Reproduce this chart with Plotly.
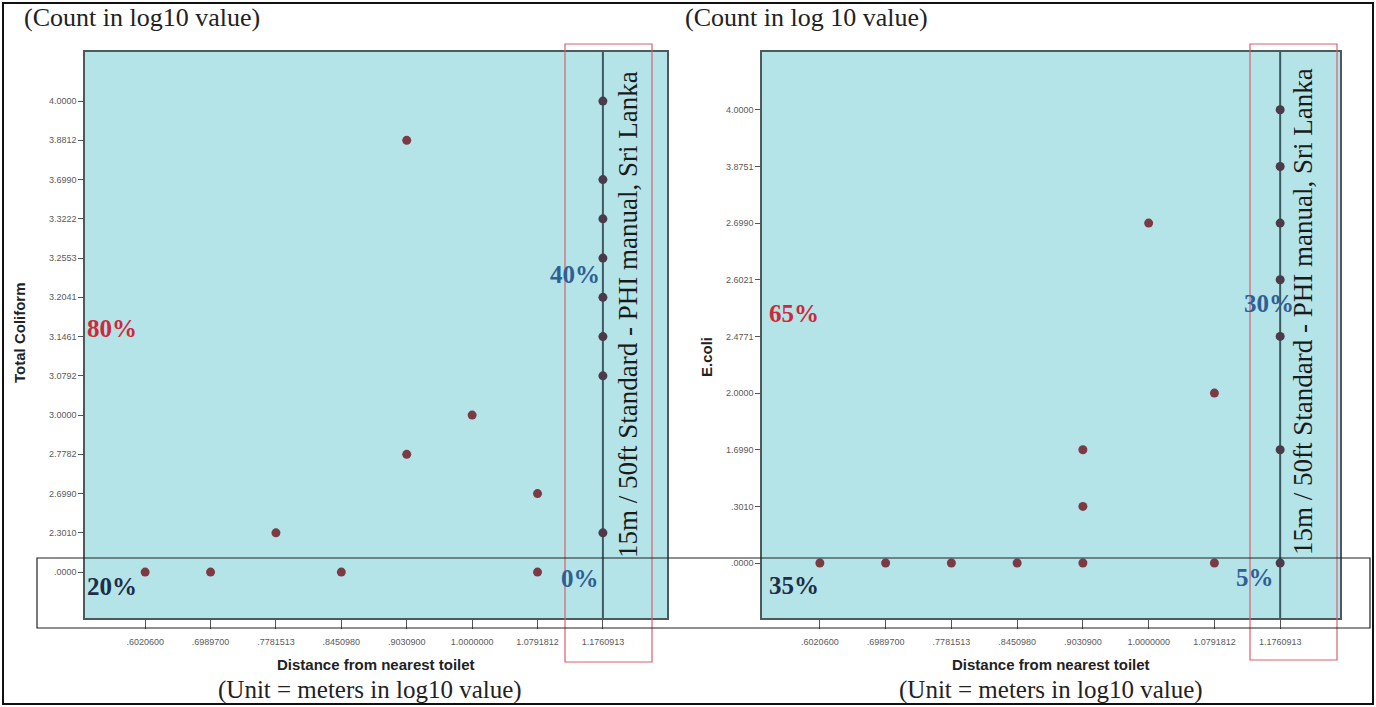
import plotly.graph_objects as go

W, H = 1376, 707

# ---- data ----
x_labels = [".6020600", ".6989700", ".7781513", ".8450980", ".9030900",
            "1.0000000", "1.0791812", "1.1760913"]
standard_x = "1.1760913"

tc_labels = [".0000", "2.3010", "2.6990", "2.7782", "3.0000", "3.0792", "3.1461",
             "3.2041", "3.2553", "3.3222", "3.6990", "3.8812", "4.0000"]
tc_x = [".6020600", ".6989700", ".7781513", ".8450980", ".9030900", ".9030900",
        "1.0000000", "1.0791812", "1.0791812",
        "1.1760913", "1.1760913", "1.1760913", "1.1760913", "1.1760913",
        "1.1760913", "1.1760913", "1.1760913"]
tc_y = [".0000", ".0000", "2.3010", ".0000", "3.8812", "2.7782",
        "3.0000", "2.6990", ".0000",
        "4.0000", "3.6990", "3.3222", "3.2553", "3.2041",
        "3.1461", "3.0792", "2.3010"]

ec_labels = [".0000", ".3010", "1.6990", "2.0000", "2.4771", "2.6021",
             "2.6990", "3.8751", "4.0000"]
ec_x = [".6020600", ".6989700", ".7781513", ".8450980", ".9030900", ".9030900",
        ".9030900", "1.0000000", "1.0791812", "1.0791812",
        "1.1760913", "1.1760913", "1.1760913", "1.1760913", "1.1760913",
        "1.1760913", "1.1760913"]
ec_y = [".0000", ".0000", ".0000", ".0000", "1.6990", ".3010",
        ".0000", "2.6990", "2.0000", ".0000",
        "4.0000", "3.8751", "2.6990", "2.6021", "2.4771",
        "1.6990", ".0000"]

pct_left = ["80%", "20%", "40%", "0%"]
pct_right = ["65%", "35%", "30%", "5%"]


def px(x):
    return x / W


def py(y):
    return 1 - y / H


MARK = "#7b3a44"
MARK_STD = "#4a3a4a"
CYAN = "#b4e4e7"

fig = go.Figure()
fig.add_trace(go.Scatter(
    x=tc_x, y=tc_y, mode="markers", xaxis="x", yaxis="y",
    marker=dict(size=9, color=[MARK_STD if v == standard_x else MARK for v in tc_x]),
    showlegend=False, hoverinfo="x+y"))
fig.add_trace(go.Scatter(
    x=ec_x, y=ec_y, mode="markers", xaxis="x2", yaxis="y2",
    marker=dict(size=9, color=[MARK_STD if v == standard_x else MARK for v in ec_x]),
    showlegend=False, hoverinfo="x+y"))

axis_common = dict(showgrid=False, zeroline=False, showline=True, mirror=True,
                   linecolor="#4d5a5c", linewidth=1.5, ticks="outside",
                   tickcolor="#555", tickfont=dict(family="Liberation Sans", size=9, color="#5a5a5a"),
                   type="category", fixedrange=True)

fig.update_layout(
    width=W, height=H,
    margin=dict(l=0, r=0, t=0, b=0),
    paper_bgcolor="white",
    plot_bgcolor=CYAN,
    xaxis=dict(axis_common, domain=[px(85), px(667)], anchor="y",
               categoryorder="array", categoryarray=x_labels,
               range=[-0.92, 7.98], ticklen=9, ticklabelstandoff=5),
    yaxis=dict(axis_common, domain=[py(618), py(52)], anchor="x",
               categoryorder="array", categoryarray=tc_labels,
               range=[-1.17, 13.25], ticklen=5),
    xaxis2=dict(axis_common, domain=[px(762), px(1340)], anchor="y2",
                categoryorder="array", categoryarray=x_labels,
                range=[-0.88, 7.91], ticklen=9, ticklabelstandoff=5),
    yaxis2=dict(axis_common, domain=[py(618), py(52)], anchor="x2",
                categoryorder="array", categoryarray=ec_labels,
                range=[-0.97, 9.02], ticklen=5),
)

std_idx = x_labels.index(standard_x)
shapes = []
# standard lines at 1.1760913
for xa, ya in (("x", "y"), ("x2", "y2")):
    shapes.append(dict(type="line", xref=xa, yref=f"{ya} domain",
                       x0=std_idx, x1=std_idx, y0=0, y1=1, layer="below",
                       line=dict(color="#3d5a63", width=2)))
# red highlight boxes
shapes.append(dict(type="rect", xref="paper", yref="paper",
                   x0=px(565), x1=px(652), y0=py(662), y1=py(44),
                   line=dict(color="#d9606e", width=1.2)))
shapes.append(dict(type="rect", xref="paper", yref="paper",
                   x0=px(1250), x1=px(1337), y0=py(660), y1=py(44),
                   line=dict(color="#d9606e", width=1.2)))
# black horizontal box around zero row
shapes.append(dict(type="rect", xref="paper", yref="paper",
                   x0=px(37), x1=px(1370), y0=py(628), y1=py(558),
                   line=dict(color="#222", width=1.2)))
# outer frame
shapes.append(dict(type="rect", xref="paper", yref="paper",
                   x0=px(3), x1=px(1373), y0=py(704), y1=py(3),
                   line=dict(color="#111", width=2)))
fig.update_layout(shapes=shapes)

SERIF = "Liberation Serif"
SANS = "Liberation Sans"
RED = "#d0283a"
NAVY = "#1e2d48"
BLUE = "#2f5f95"

ann = []


def A(text, x, y, xanchor="center", size=19, color="#222", family=SERIF,
      angle=0, bold=False):
    ann.append(dict(text=f"<b>{text}</b>" if bold else text,
                    x=px(x), y=py(y), xref="paper", yref="paper",
                    xanchor=xanchor, yanchor="middle", showarrow=False,
                    textangle=angle,
                    font=dict(family=family, size=size, color=color)))


A("(Count in log10 value)", 22, 18, "left", 26)
A("(Count in log 10 value)", 683, 18, "left", 26)

A(pct_left[0], 85, 328, "left", 25, RED, bold=True)
A(pct_left[1], 85, 586, "left", 25, NAVY, bold=True)
A(pct_left[2], 602, 274, "right", 25, BLUE, bold=True)
A(pct_left[3], 601, 578, "right", 25, BLUE, bold=True)
A(pct_right[0], 767, 313, "left", 25, RED, bold=True)
A(pct_right[1], 767, 585, "left", 25, NAVY, bold=True)
A(pct_right[2], 1296, 303, "right", 25, BLUE, bold=True)
A(pct_right[3], 1276, 577, "right", 25, BLUE, bold=True)

A("15m / 50ft Standard - PHI manual, Sri Lanka", 628, 315, size=27,
  color="#1a1a1a", angle=-90)
A("15m / 50ft Standard - PHI manual, Sri Lanka", 1303, 312, size=27,
  color="#1a1a1a", angle=-90)

A("Distance from nearest toilet", 376, 664, size=15, family=SANS, bold=True)
A("Distance from nearest toilet", 1051, 664, size=15, family=SANS, bold=True)
A("(Unit = meters in log10 value)", 370, 690, size=25)
A("(Unit = meters in log10 value)", 1051, 690, size=25)

A("Total Coliform", 20, 333, size=15, family=SANS, angle=-90, bold=True)
A("E.coli", 706, 357, size=15, family=SANS, angle=-90, bold=True)

fig.update_layout(annotations=ann)

fig.write_html("out.html", config={"displayModeBar": False},
               post_script="document.body.style.margin='0px';")
